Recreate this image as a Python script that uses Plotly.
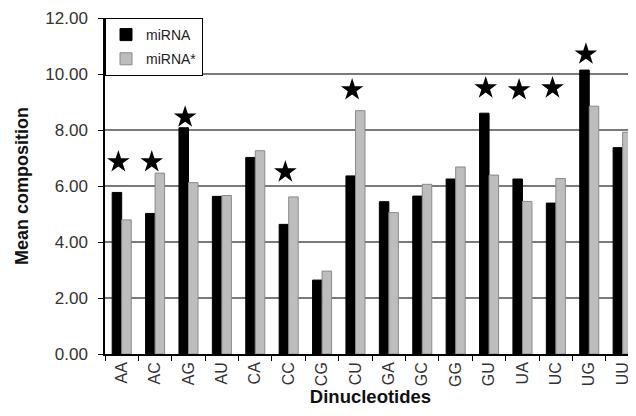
import plotly.graph_objects as go

categories = ["AA", "AC", "AG", "AU", "CA", "CC", "CG", "CU",
              "GA", "GC", "GG", "GU", "UA", "UC", "UG", "UU"]
mirna = [5.77, 5.02, 8.08, 5.63, 7.02, 4.63, 2.64, 6.36,
         5.44, 5.64, 6.25, 8.60, 6.25, 5.39, 10.14, 7.37]
mirna_star = [4.79, 6.46, 6.12, 5.66, 7.26, 5.61, 2.96, 8.69,
              5.05, 6.06, 6.68, 6.39, 5.45, 6.27, 8.85, 7.92]
star_categories = ["AA", "AC", "AG", "CC", "CU", "GU", "UA", "UC", "UG"]
star_heights = [6.86, 6.86, 8.46, 6.50, 9.43, 9.50, 9.43, 9.50, 10.71]
y_ticks = [0, 2, 4, 6, 8, 10, 12]

X_RANGE = [-0.5, 15.4]
star_x = [categories.index(c) - 0.1 for c in star_categories]

fig = go.Figure()
fig.add_trace(go.Bar(x=categories, y=mirna, name="miRNA", legendgroup="a",
                     marker=dict(color="#000000", line=dict(color="#000000", width=1))))
fig.add_trace(go.Bar(x=categories, y=mirna_star, name="miRNA*", legendgroup="b",
                     marker=dict(color="#bdbdbd", line=dict(color="#8a8a8a", width=1))))
fig.add_trace(go.Scatter(x=star_x, y=star_heights, mode="markers", showlegend=False,
                         xaxis="x2",
                         marker=dict(symbol="star", size=17, color="#000000",
                                     line=dict(width=0))))

fig.update_layout(
    width=628, height=408,
    margin=dict(l=97, r=0, t=10, b=62, autoexpand=False),
    paper_bgcolor="white", plot_bgcolor="white",
    font=dict(family="Liberation Sans, Arial, sans-serif", color="#222222"),
    barmode="group", bargap=0.43, bargroupgap=0.0,
    legend=dict(x=0.0, y=1.0, xanchor="left", yanchor="top",
                bgcolor="white", bordercolor="#000000", borderwidth=1,
                font=dict(size=14, color="#222222"), tracegroupgap=3,
                itemwidth=30),
    showlegend=True,
    xaxis2=dict(overlaying="x", range=X_RANGE, visible=False),
)
fig.layout.xaxis.update(
    type="category", range=X_RANGE, tickangle=-90,
    tickfont=dict(size=16, color="#333333"),
    showline=True, linecolor="#000000", linewidth=1.5,
    ticks="outside", ticklen=5, tickcolor="#000000", tickson="boundaries",
    showgrid=False, zeroline=False,
    title=dict(text="<b>Dinucleotides</b>", font=dict(size=18.5, color="#111111"), standoff=2),
)
fig.update_yaxes(
    range=[0, 12], tickvals=y_ticks, ticktext=[f"{v:.2f}" for v in y_ticks],
    tickfont=dict(size=17, color="#333333"), ticklabelstandoff=7,
    showline=True, linecolor="#000000", linewidth=1.5,
    ticks="outside", ticklen=5, tickcolor="#000000",
    showgrid=True, gridcolor="#7a7a7a", gridwidth=1.5, zeroline=False,
    title=dict(text="<b>Mean composition</b>", font=dict(size=18, color="#111111"), standoff=12),
)

fig.write_html("out.html")
